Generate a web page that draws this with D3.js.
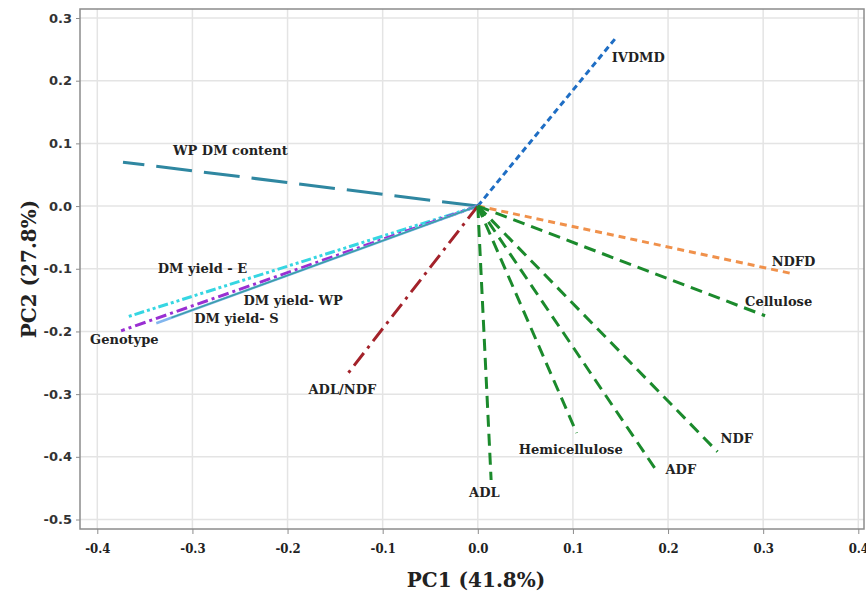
<!DOCTYPE html>
<html lang="en">
<head>
    <meta charset="UTF-8">
    <title>PCA biplot</title>
    <script src="https://d3js.org/d3.v7.min.js"></script>
    <style>
        body { margin: 0; background: #fff; }
    </style>
</head>
<body>
    <svg width="866" height="594"></svg>

    <script>
        // loadings
        const variables = ["WP DM content", "DM yield - E", "Genotype", "DM yield- S", "DM yield- WP",
                           "ADL/NDF", "IVDMD", "NDFD", "Cellulose", "NDF", "ADF", "Hemicellulose", "ADL"];
        const pc1 = [-0.373, -0.369, -0.375, -0.338, -0.322, -0.138, 0.146, 0.331, 0.302, 0.252, 0.190, 0.104, 0.014];
        const pc2 = [0.070, -0.177, -0.199, -0.187, -0.178, -0.270, 0.270, -0.108, -0.175, -0.392, -0.427, -0.362, -0.437];

        const xTicks = [-0.4, -0.3, -0.2, -0.1, 0.0, 0.1, 0.2, 0.3, 0.4];
        const yTicks = [0.3, 0.2, 0.1, 0.0, -0.1, -0.2, -0.3, -0.4, -0.5];

        // line look for every variable
        const green = "#1b8a2c";
        const styles = {
            "WP DM content": { color: "#2f87a1", dash: "36,12", w: 3 },
            "DM yield - E":  { color: "#36d6e2", dash: "10,3,3,3,3,3", w: 3 },
            "Genotype":      { color: "#9a2fd2", dash: "11,4,3,4", w: 3 },
            "DM yield- S":   { color: "#82b6ee", dash: null, w: 2.5 },
            "DM yield- WP":  { color: "#3a9fa6", dash: null, w: 1.5 },
            "ADL/NDF":       { color: "#a3222a", dash: "16,6,3,6", w: 3 },
            "IVDMD":         { color: "#1f6ec4", dash: "6,4", w: 3 },
            "NDFD":          { color: "#f0914b", dash: "7,5", w: 3 },
            "Cellulose":     { color: green, dash: "12,7", w: 3 },
            "NDF":           { color: green, dash: "12,7", w: 3 },
            "ADF":           { color: green, dash: "12,7", w: 3 },
            "Hemicellulose": { color: green, dash: "12,7", w: 3 },
            "ADL":           { color: green, dash: "12,7", w: 3 }
        };
        // label offsets from the end of each arrow (px)
        const labelOff = {
            "WP DM content": [50, -7],
            "DM yield - E":  [31, -44],
            "Genotype":      [-31, 13],
            "DM yield- S":   [38, 0],
            "DM yield- WP":  [72, -13],
            "ADL/NDF":       [-38, 19],
            "IVDMD":         [-5, 25],
            "NDFD":          [-21, -8],
            "Cellulose":     [-20, -10],
            "NDF":           [3, -9],
            "ADF":           [7, 0],
            "Hemicellulose": [-58, 21],
            "ADL":           [-22, 17]
        };

        const svg = d3.select("svg");
        const plotLeft = 80, plotRight = 864, plotTop = 9, plotBottom = 529;

        const x = d3.scaleLinear().domain([-0.4, 0.4]).range([97.3, 858.3]);
        const y = d3.scaleLinear().domain([0.3, -0.5]).range([18, 519.5]);

        // grid
        svg.append("g").selectAll("line").data(xTicks).join("line")
            .attr("x1", d => x(d)).attr("x2", d => x(d))
            .attr("y1", plotTop).attr("y2", plotBottom)
            .attr("stroke", "#e4e4e4").attr("stroke-width", 1.5);
        svg.append("g").selectAll("line").data(yTicks).join("line")
            .attr("x1", plotLeft).attr("x2", plotRight)
            .attr("y1", d => y(d)).attr("y2", d => y(d))
            .attr("stroke", "#e4e4e4").attr("stroke-width", 1.5);

        // frame
        svg.append("rect")
            .attr("x", plotLeft).attr("y", plotTop)
            .attr("width", plotRight - plotLeft).attr("height", plotBottom - plotTop)
            .attr("fill", "none").attr("stroke", "#8c8c8c").attr("stroke-width", 1.5);

        // axes
        const xAxis = svg.append("g")
            .attr("transform", `translate(0,${plotBottom})`)
            .call(d3.axisBottom(x).tickValues(xTicks).tickSize(5).tickPadding(10));
        const yAxis = svg.append("g")
            .attr("transform", `translate(${plotLeft},0)`)
            .call(d3.axisLeft(y).tickValues(yTicks).tickSize(4).tickPadding(4));
        xAxis.select(".domain").remove();
        yAxis.select(".domain").remove();
        xAxis.selectAll("line").attr("stroke", "#8c8c8c");
        yAxis.selectAll("line").attr("stroke", "#8c8c8c");
        xAxis.selectAll("text")
            .text(d => d3.format(".1f")(d).replace("−", "-"))
            .attr("font-family", "DejaVu Serif Condensed, DejaVu Serif")
            .attr("font-weight", "bold").attr("font-size", 13).attr("fill", "#222");
        yAxis.selectAll("text")
            .text(d => d3.format(".1f")(d).replace("−", "-"))
            .attr("font-family", "DejaVu Sans")
            .attr("font-weight", "bold").attr("font-size", 13).attr("fill", "#333");

        // axis titles
        svg.append("text")
            .attr("x", 476).attr("y", 587)
            .attr("text-anchor", "middle")
            .attr("font-family", "DejaVu Serif").attr("font-weight", "bold").attr("font-size", 20)
            .attr("fill", "#222")
            .text("PC1 (41.8%)");
        svg.append("text")
            .attr("transform", "translate(36,269) rotate(-90)")
            .attr("text-anchor", "middle")
            .attr("font-family", "DejaVu Serif").attr("font-weight", "bold").attr("font-size", 20)
            .attr("fill", "#222")
            .text("PC2 (27.8%)");

        // loading vectors
        const rows = variables.map((v, i) => ({ name: v, x: pc1[i], y: pc2[i] }));

        svg.append("g").selectAll("line").data(rows).join("line")
            .attr("x1", x(0)).attr("y1", y(0))
            .attr("x2", d => x(d.x)).attr("y2", d => y(d.y))
            .attr("stroke", d => styles[d.name].color)
            .attr("stroke-width", d => styles[d.name].w)
            .attr("stroke-dasharray", d => styles[d.name].dash);

        svg.append("g").selectAll("text").data(rows).join("text")
            .attr("x", d => x(d.x) + labelOff[d.name][0])
            .attr("y", d => y(d.y) + labelOff[d.name][1])
            .attr("font-family", "DejaVu Serif").attr("font-weight", "bold").attr("font-size", 13)
            .attr("fill", "#222")
            .text(d => d.name);
    </script>
</body>
</html>
